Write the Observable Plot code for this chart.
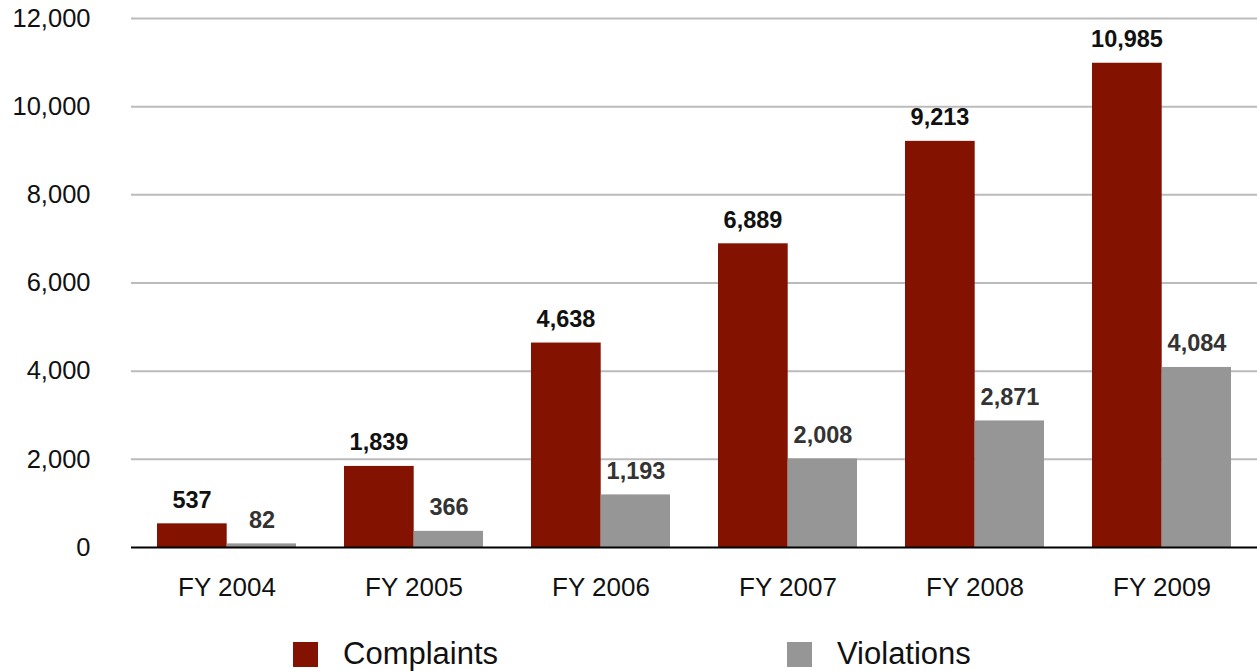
<!DOCTYPE html>
<html>
<head>
<meta charset="utf-8">
<script src="https://cdn.jsdelivr.net/npm/d3@7"></script>
<script src="https://cdn.jsdelivr.net/npm/@observablehq/plot@0.6"></script>
<style>
  html, body { margin: 0; padding: 0; background: #fff; }
  body { width: 1257px; height: 671px; overflow: hidden; font-family: "Liberation Sans", Arial, Helvetica, sans-serif; }
  #legend { position: relative; height: 56px; }
  .item { position: absolute; top: 21px; display: flex; align-items: center; font-size: 31px; color: #111; }
  .sw { width: 25px; height: 25px; margin-right: 25px; }
</style>
</head>
<body>
<div id="chart"></div>
<div id="legend"></div>
<script>
const years = ["FY 2004", "FY 2005", "FY 2006", "FY 2007", "FY 2008", "FY 2009"];
const complaints = [537, 1839, 4638, 6889, 9213, 10985];
const violations = [82, 366, 1193, 2008, 2871, 4084];
const yTicks = [0, 2000, 4000, 6000, 8000, 10000, 12000];
const seriesNames = ["Complaints", "Violations"];
const seriesColors = ["#841200", "#969696"];

const cData = years.map((y, i) => ({year: y, value: complaints[i]}));
const vData = years.map((y, i) => ({year: y, value: violations[i]}));
const fmt = d3.format(",");

const plot = Plot.plot({
  width: 1257,
  height: 615,
  marginLeft: 131,
  marginRight: 0,
  marginTop: 18,
  marginBottom: 68,
  style: {fontFamily: "'Liberation Sans', Arial, Helvetica, sans-serif", background: "#fff"},
  x: {domain: years, padding: 0, label: null},
  y: {domain: [0, 12000], label: null},
  marks: [
    Plot.ruleY(yTicks.filter(d => d > 0), {stroke: "#bbbbbb", strokeWidth: 2}),
    Plot.axisY({ticks: yTicks, tickSize: 0, tickPadding: 41, tickFormat: fmt, fontSize: 25.5, fill: "#111", label: null}),
    Plot.axisX({tickSize: 0, tickPadding: 30, fontSize: 26, fill: "#111", label: null}),
    Plot.barY(cData, {x: "year", y: "value", fill: seriesColors[0], insetLeft: 24, insetRight: 93.3}),
    Plot.barY(vData, {x: "year", y: "value", fill: seriesColors[1], insetLeft: 93.6, insetRight: 24}),
    Plot.ruleY([0], {stroke: "#000", strokeWidth: 2}),
    Plot.text(cData, {x: "year", y: "value", text: d => fmt(d.value), dx: -35, dy: -16, lineAnchor: "bottom", fontSize: 23.5, fontWeight: "bold", fill: "#111"}),
    Plot.text(vData, {x: "year", y: "value", text: d => fmt(d.value), dx: 35, dy: -16, lineAnchor: "bottom", fontSize: 23.5, fontWeight: "bold", fill: "#333"})
  ]
});
document.getElementById("chart").appendChild(plot);

const legend = document.getElementById("legend");
const legendLeft = [293, 787];
seriesNames.forEach((name, i) => {
  const item = document.createElement("div");
  item.className = "item";
  item.style.left = legendLeft[i] + "px";
  const sw = document.createElement("div");
  sw.className = "sw";
  sw.style.background = seriesColors[i];
  item.appendChild(sw);
  const t = document.createElement("span");
  t.textContent = name;
  item.appendChild(t);
  legend.appendChild(item);
});
</script>
</body>
</html>
